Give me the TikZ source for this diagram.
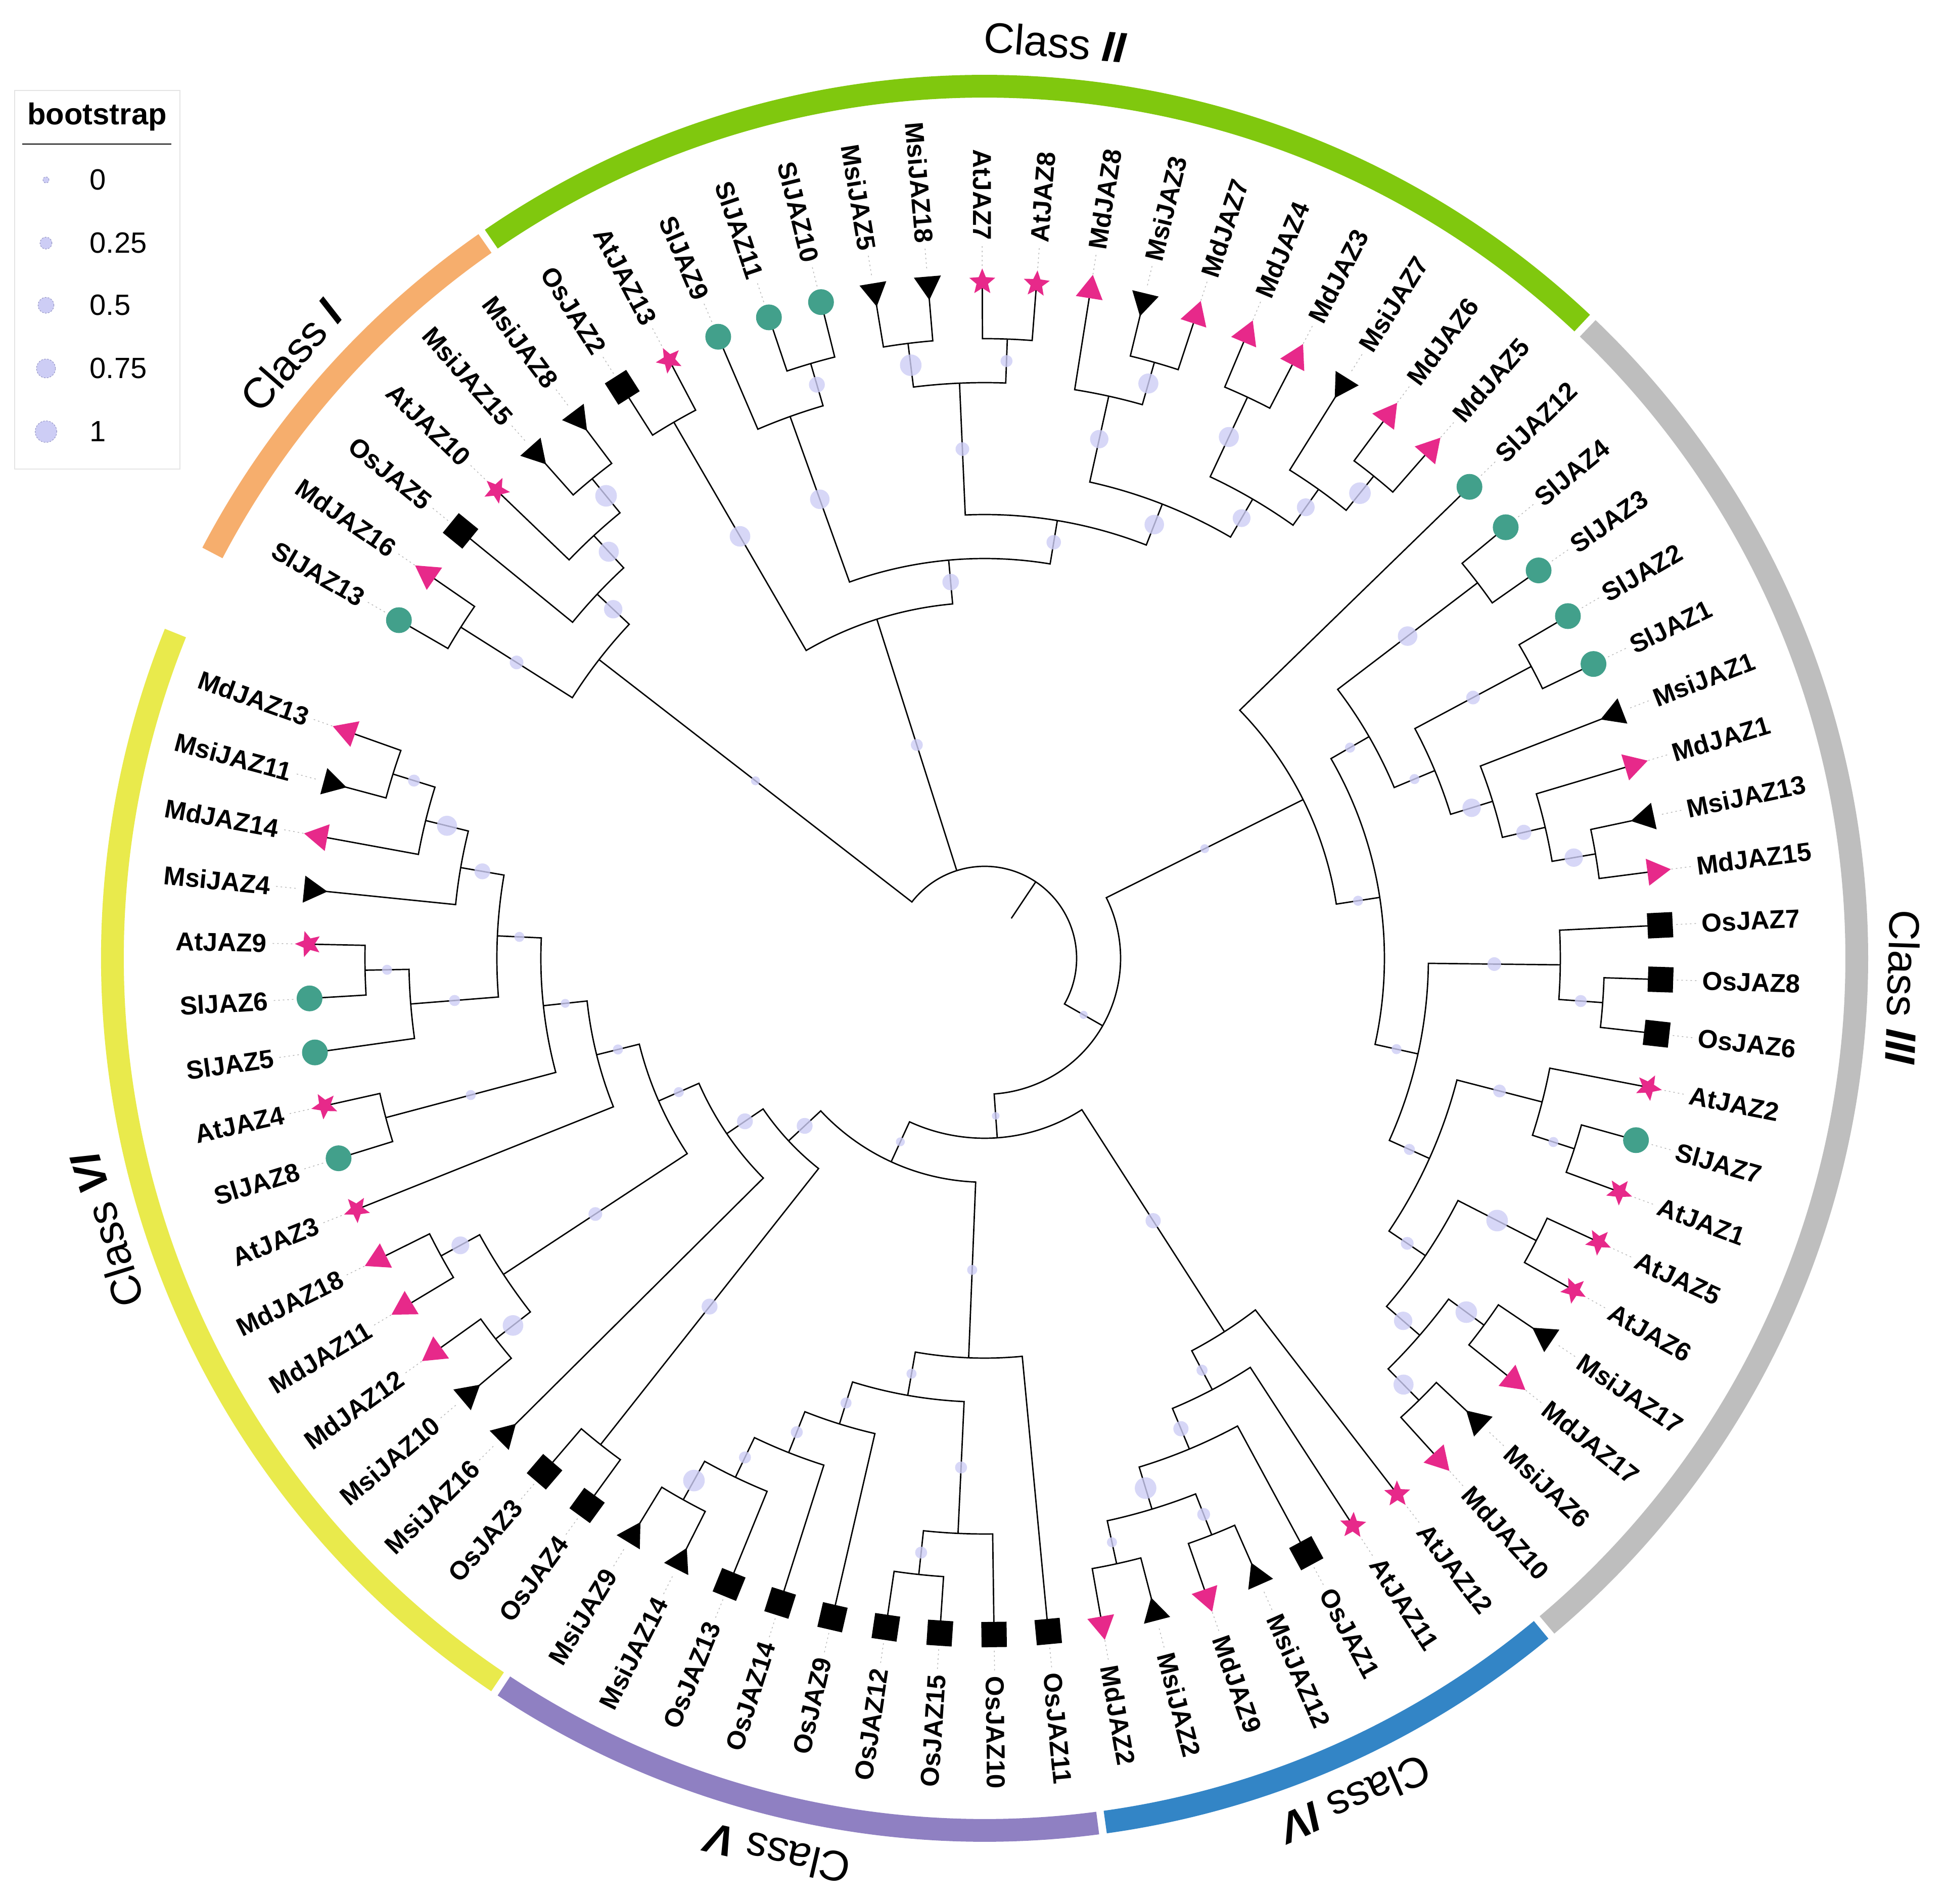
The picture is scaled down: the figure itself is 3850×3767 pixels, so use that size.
\documentclass[tikz,border=0pt]{standalone}
\usepackage{fontspec}
\setmainfont{Liberation Sans}
\definecolor{mdcol}{RGB}{231,41,138}
\definecolor{slcol}{RGB}{66,160,139}
\definecolor{bscol}{RGB}{205,205,245}
\definecolor{cI}{RGB}{246,174,109}
\definecolor{cII}{RGB}{128,200,14}
\definecolor{cIII}{RGB}{190,190,190}
\definecolor{cIV}{RGB}{51,133,198}
\definecolor{cV}{RGB}{143,128,194}
\definecolor{cVI}{RGB}{233,234,76}
\newcommand\setleaf[2]{%
  \expandafter\xdef\csname Ang#1\endcsname{\fpeval{150-4.6*(#2-1)}}%
  \expandafter\xdef\csname Rad#1\endcsname{1338}}
\newcommand\tn[4]{%
  \edef\tA{\csname Ang#3\endcsname}\edef\tB{\csname Ang#4\endcsname}%
  \edef\tRA{\csname Rad#3\endcsname}\edef\tRB{\csname Rad#4\endcsname}%
  \edef\tR{\fpeval{1313-87*#2}}%
  \expandafter\xdef\csname Ang#1\endcsname{\fpeval{(\tA+\tB)/2}}%
  \expandafter\xdef\csname Rad#1\endcsname{\tR}%
  \draw[branch] (\tA:\tRA) -- (\tA:\tR) arc[start angle=\tA, end angle=\tB, radius=\tR] -- (\tB:\tRB);}
\newcommand\bs[3]{%
  \edef\tA{\csname Ang#1\endcsname}%
  \edef\tM{\fpeval{(\csname Rad#1\endcsname+\csname Rad#2\endcsname)/2}}%
  \edef\tS{\fpeval{sqrt(36+420*#3)}}%
  \fill[bsdot] (\tA:\tM) circle[radius=\tS];}
\newcommand\symSl[1]{\fill[slcol] (#1:1338) circle[radius=25.5];}
\newcommand\symOs[1]{\fill[black,shift={(#1:1338)},rotate=#1] (-25,-25) rectangle (25,25);}
\newcommand\symMd[1]{\fill[mdcol,shift={(#1:1338)},rotate=#1] (0:31) -- (120:31) -- (240:31) -- cycle;}
\newcommand\symMsi[1]{\fill[black,shift={(#1:1338)},rotate=#1] (180:31) -- (60:31) -- (300:31) -- cycle;}
\newcommand\symAt[1]{\fill[mdcol,shift={(#1:1338)},rotate=#1] (0:27) -- (36:12) -- (72:27) -- (108:12) -- (144:27) -- (180:12) -- (216:27) -- (252:12) -- (288:27) -- (324:12) -- cycle;}
\newcommand\leaf[3]{%
  \edef\tA{\csname AngL#1\endcsname}%
  \draw[dotline] (\tA:1370) -- (\tA:1414);
  \csname sym#3\endcsname{\tA}%
  \ifdim \tA pt>90pt \def\flip{1}\else\ifdim \tA pt<-90pt \def\flip{1}\else\def\flip{0}\fi\fi
  \if1\flip
    \edef\tRot{\fpeval{\tA+180}}%
    \node[lab, rotate=\tRot, anchor=east] at (\tA:1420) {#2};
  \else
    \node[lab, rotate=\tA, anchor=west] at (\tA:1420) {#2};
  \fi}
\newcommand\ring[3]{%
  \fill[#3] (#1:1703) arc[start angle=#1,end angle=#2,radius=1703] -- (#2:1748) arc[start angle=#2,end angle=#1,radius=1748] -- cycle;}
\newcommand\classlab[2]{%
  \edef\tRot{\fpeval{#1-90}}%
  \node[clab, rotate=\tRot] at (#1:1818) {Class {\bfseries\itshape #2}};}
\begin{document}
\begin{tikzpicture}[x=0.1mm,y=0.1mm,
  branch/.style={line width=0.27mm, black},
  bsdot/.style={fill=bscol, fill opacity=0.8},
  dotline/.style={gray!55, line width=0.15mm, dash pattern=on 0.3mm off 0.6mm},
  lab/.style={font=\fontsize{14.6}{17}\selectfont\bfseries, inner sep=0pt},
  clab/.style={font=\fontsize{24}{28}\selectfont, inner sep=0pt},
  legt/.style={font=\fontsize{16.5}{19}\selectfont, anchor=west, inner sep=0pt}]
\useasboundingbox (-1948,-1871) rectangle (1902,1896);
\fill[white] (-1948,-1871) rectangle (1902,1896);
\foreach \i in {1,...,77}{\setleaf{L\i}{\i}}
% Class I
\tn{a}{1}{L1}{L2}
\tn{d}{1}{L5}{L6}
\tn{c}{2}{L4}{d}
\tn{b}{3}{L3}{c}
\tn{e}{4}{a}{b}
% Class II
\tn{f}{1}{L7}{L8}
\tn{i}{1}{L10}{L11}
\tn{j}{2}{L9}{i}
\tn{k}{1}{L12}{L13}
\tn{l}{1}{L14}{L15}
\tn{m}{2}{k}{l}
\tn{n}{1}{L17}{L18}
\tn{o}{2}{L16}{n}
\tn{p}{1}{L19}{L20}
\tn{q}{1}{L22}{L23}
\tn{s}{2}{L21}{q}
\tn{t}{3}{p}{s}
\tn{v}{4}{o}{t}
\tn{w}{5}{m}{v}
\tn{x}{6}{j}{w}
\tn{g}{7}{f}{x}
% Class III
\tn{cA}{1}{L31}{L32}
\tn{cB}{2}{L30}{cA}
\tn{cC}{3}{L29}{cB}
\tn{tb}{1}{L27}{L28}
\tn{cD}{4}{tb}{cC}
\tn{ta}{1}{L25}{L26}
\tn{cE}{5}{ta}{cD}
\tn{osA}{1}{L34}{L35}
\tn{osB}{2}{L33}{osA}
\tn{atA}{1}{L37}{L38}
\tn{atB}{2}{L36}{atA}
\tn{gA}{1}{L39}{L40}
\tn{gB}{1}{L41}{L42}
\tn{gC}{1}{L43}{L44}
\tn{gD}{2}{gB}{gC}
\tn{F}{3}{gA}{gD}
\tn{E}{4}{atB}{F}
\tn{dE}{5}{osB}{E}
\tn{cF}{6}{cE}{dE}
\tn{Y}{7}{L24}{cF}
% Class IV
\tn{kA}{1}{L50}{L51}
\tn{kB}{1}{L48}{L49}
\tn{kC}{2}{kB}{kA}
\tn{kD}{3}{L47}{kC}
\tn{kE}{4}{L46}{kD}
\tn{K}{5}{L45}{kE}
% Class V
\tn{uA}{1}{L54}{L55}
\tn{uB}{2}{L53}{uA}
\tn{uC}{1}{L59}{L60}
\tn{uD}{2}{L58}{uC}
\tn{uE}{3}{L57}{uD}
\tn{uF}{4}{L56}{uE}
\tn{uG}{5}{uB}{uF}
\tn{uH}{6}{L52}{uG}
% Class VI
\tn{vA}{1}{L76}{L77}
\tn{vB}{2}{L75}{vA}
\tn{vC}{3}{L74}{vB}
\tn{vD}{1}{L72}{L73}
\tn{vE}{2}{L71}{vD}
\tn{vF}{4}{vE}{vC}
\tn{vG}{1}{L69}{L70}
\tn{vH}{5}{vG}{vF}
\tn{vI}{6}{L68}{vH}
\tn{pA}{1}{L66}{L67}
\tn{pB}{1}{L64}{L65}
\tn{pC}{2}{pB}{pA}
\tn{vJ}{7}{pC}{vI}
\tn{vK}{8}{L63}{vJ}
\tn{oA}{1}{L61}{L62}
\tn{vL}{9}{oA}{vK}
\tn{W}{10}{uH}{vL}
\tn{Z}{11}{K}{W}
\tn{X}{12}{Y}{Z}
% root
\expandafter\xdef\csname Radroot\endcsname{182}
\edef\rootA{\fpeval{(\csname Ange\endcsname+\csname AngX\endcsname)/2}}
\draw[branch] (\csname Ange\endcsname:\csname Rade\endcsname) -- (\csname Ange\endcsname:182) arc[start angle=\csname Ange\endcsname, end angle=\csname AngX\endcsname, radius=182] -- (\csname AngX\endcsname:\csname RadX\endcsname);
\draw[branch] (\csname Angg\endcsname:182) -- (\csname Angg\endcsname:\csname Radg\endcsname);
\draw[branch] (\rootA:95) -- (\rootA:182);
% bootstrap points
\bs{a}{e}{.35} \bs{d}{c}{1} \bs{c}{b}{.85} \bs{b}{e}{.7} \bs{e}{root}{.1}
\bs{f}{g}{.9} \bs{i}{j}{.5} \bs{j}{x}{.8} \bs{k}{m}{1} \bs{l}{m}{.25} \bs{m}{w}{.35} \bs{n}{o}{.85} \bs{o}{v}{.7} \bs{p}{t}{.85} \bs{q}{s}{1} \bs{s}{t}{.65} \bs{t}{v}{.65} \bs{v}{w}{.8} \bs{w}{x}{.4} \bs{x}{g}{.55} \bs{g}{root}{.25}
\bs{cA}{cB}{.7} \bs{cB}{cC}{.45} \bs{cC}{cD}{.7} \bs{tb}{cD}{.35} \bs{cD}{cE}{.15} \bs{ta}{cE}{.8} \bs{cE}{cF}{.15} \bs{osA}{osB}{.25} \bs{osB}{dE}{.35} \bs{atA}{atB}{.15} \bs{atB}{E}{.3} \bs{gA}{F}{1} \bs{gB}{gD}{1} \bs{gC}{gD}{.85} \bs{gD}{F}{.7} \bs{F}{E}{.3} \bs{E}{dE}{.2} \bs{dE}{cF}{.15} \bs{cF}{Y}{.15} \bs{Y}{X}{.1}
\bs{kA}{kC}{.15} \bs{kB}{kC}{.3} \bs{kC}{kD}{1} \bs{kD}{kE}{.45} \bs{kE}{K}{.2} \bs{K}{Z}{.45} \bs{Z}{X}{.05} \bs{W}{Z}{.1} \bs{X}{root}{.07}
\bs{uA}{uB}{.25} \bs{uB}{uG}{.25} \bs{uC}{uD}{1} \bs{uD}{uE}{.25} \bs{uE}{uF}{.25} \bs{uF}{uG}{.2} \bs{uG}{uH}{.15} \bs{uH}{W}{.15}
\bs{vA}{vB}{.25} \bs{vB}{vC}{.85} \bs{vC}{vF}{.5} \bs{vD}{vE}{.15} \bs{vE}{vF}{.2} \bs{vF}{vH}{.15} \bs{vG}{vH}{.15} \bs{vH}{vI}{.1} \bs{vI}{vJ}{.15} \bs{pA}{pC}{.65} \bs{pB}{pC}{.9} \bs{pC}{vJ}{.35} \bs{vJ}{vK}{.15} \bs{vK}{vL}{.5} \bs{oA}{vL}{.5} \bs{vL}{W}{.5}
% leaves
\leaf{1}{SlJAZ13}{Sl}
\leaf{2}{MdJAZ16}{Md}
\leaf{3}{OsJAZ5}{Os}
\leaf{4}{AtJAZ10}{At}
\leaf{5}{MsiJAZ15}{Msi}
\leaf{6}{MsiJAZ8}{Msi}
\leaf{7}{OsJAZ2}{Os}
\leaf{8}{AtJAZ13}{At}
\leaf{9}{SlJAZ9}{Sl}
\leaf{10}{SlJAZ11}{Sl}
\leaf{11}{SlJAZ10}{Sl}
\leaf{12}{MsiJAZ5}{Msi}
\leaf{13}{MsiJAZ18}{Msi}
\leaf{14}{AtJAZ7}{At}
\leaf{15}{AtJAZ8}{At}
\leaf{16}{MdJAZ8}{Md}
\leaf{17}{MsiJAZ3}{Msi}
\leaf{18}{MdJAZ7}{Md}
\leaf{19}{MdJAZ4}{Md}
\leaf{20}{MdJAZ3}{Md}
\leaf{21}{MsiJAZ7}{Msi}
\leaf{22}{MdJAZ6}{Md}
\leaf{23}{MdJAZ5}{Md}
\leaf{24}{SlJAZ12}{Sl}
\leaf{25}{SlJAZ4}{Sl}
\leaf{26}{SlJAZ3}{Sl}
\leaf{27}{SlJAZ2}{Sl}
\leaf{28}{SlJAZ1}{Sl}
\leaf{29}{MsiJAZ1}{Msi}
\leaf{30}{MdJAZ1}{Md}
\leaf{31}{MsiJAZ13}{Msi}
\leaf{32}{MdJAZ15}{Md}
\leaf{33}{OsJAZ7}{Os}
\leaf{34}{OsJAZ8}{Os}
\leaf{35}{OsJAZ6}{Os}
\leaf{36}{AtJAZ2}{At}
\leaf{37}{SlJAZ7}{Sl}
\leaf{38}{AtJAZ1}{At}
\leaf{39}{AtJAZ5}{At}
\leaf{40}{AtJAZ6}{At}
\leaf{41}{MsiJAZ17}{Msi}
\leaf{42}{MdJAZ17}{Md}
\leaf{43}{MsiJAZ6}{Msi}
\leaf{44}{MdJAZ10}{Md}
\leaf{45}{AtJAZ12}{At}
\leaf{46}{AtJAZ11}{At}
\leaf{47}{OsJAZ1}{Os}
\leaf{48}{MsiJAZ12}{Msi}
\leaf{49}{MdJAZ9}{Md}
\leaf{50}{MsiJAZ2}{Msi}
\leaf{51}{MdJAZ2}{Md}
\leaf{52}{OsJAZ11}{Os}
\leaf{53}{OsJAZ10}{Os}
\leaf{54}{OsJAZ15}{Os}
\leaf{55}{OsJAZ12}{Os}
\leaf{56}{OsJAZ9}{Os}
\leaf{57}{OsJAZ14}{Os}
\leaf{58}{OsJAZ13}{Os}
\leaf{59}{MsiJAZ14}{Msi}
\leaf{60}{MsiJAZ9}{Msi}
\leaf{61}{OsJAZ4}{Os}
\leaf{62}{OsJAZ3}{Os}
\leaf{63}{MsiJAZ16}{Msi}
\leaf{64}{MsiJAZ10}{Msi}
\leaf{65}{MdJAZ12}{Md}
\leaf{66}{MdJAZ11}{Md}
\leaf{67}{MdJAZ18}{Md}
\leaf{68}{AtJAZ3}{At}
\leaf{69}{SlJAZ8}{Sl}
\leaf{70}{AtJAZ4}{At}
\leaf{71}{SlJAZ5}{Sl}
\leaf{72}{SlJAZ6}{Sl}
\leaf{73}{AtJAZ9}{At}
\leaf{74}{MsiJAZ4}{Msi}
\leaf{75}{MdJAZ14}{Md}
\leaf{76}{MsiJAZ11}{Msi}
\leaf{77}{MdJAZ13}{Md}
% class ring
\ring{152.3}{124.95}{cI}
\ring{124.45}{46.75}{cII}
\ring{46.25}{-49.85}{cIII}
\ring{-50.35}{-82.05}{cIV}
\ring{-82.55}{-123.45}{cV}
\ring{-123.95}{-201.9}{cVI}
\classlab{139}{I}
\classlab{85.6}{II}
\classlab{-1.8}{III}
\classlab{-66.2}{IV}
\classlab{-103}{V}
\classlab{-162.8}{VI}
% legend
\draw[draw={rgb,255:red,228;green,228;blue,228}, line width=0.25mm, fill=white] (-1919,968) rectangle (-1592,1717);
\node[font=\fontsize{17}{20}\selectfont\bfseries, inner sep=0pt] at (-1756,1665) {bootstrap};
\draw[line width=0.25mm] (-1904,1611) -- (-1609,1611);
\foreach \yy/\vv/\tt in {1540/0/0, 1415/0.25/0.25, 1292/0.5/0.5, 1167/0.75/0.75, 1042/1/1}{
  \pgfmathsetmacro\rr{sqrt(36+420*\vv)}
  \fill[bscol, draw={rgb,255:red,140;green,140;blue,190}, line width=0.1mm, dash pattern=on 0.3mm off 0.3mm] (-1857,\yy) circle[radius=\rr];
  \node[legt] at (-1771,\yy) {\tt};
}
\end{tikzpicture}
\end{document}
